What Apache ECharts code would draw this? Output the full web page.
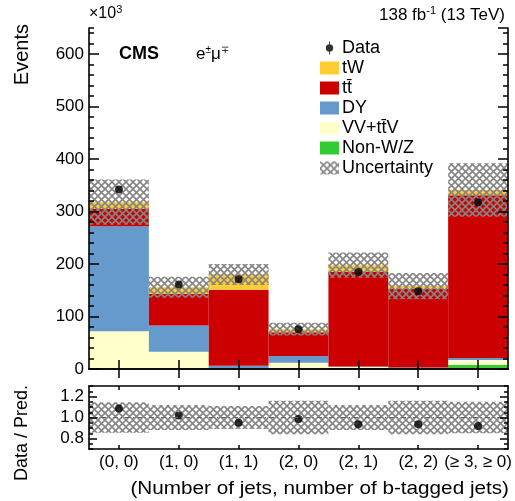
<!DOCTYPE html>
<html><head><meta charset="utf-8">
<script src="https://cdn.jsdelivr.net/npm/echarts@6/dist/echarts.min.js"></script>
<style>html,body{margin:0;padding:0;background:#fff}#c{width:515px;height:501px}</style>
</head><body><div id="c"></div>
<script>
// ---- data (values in units of 10^3 events) ----
const categories = ['(0, 0)', '(1, 0)', '(1, 1)', '(2, 0)', '(2, 1)', '(2, 2)', '(\u2265 3, \u2265 0)'];
const nonWZ = [1, 1, 1, 1, 2, 1, 8];
const vvttv = [71, 32, 1, 11, 2, 1, 9];
const dy = [200, 50, 4, 13, 1, 1, 4];
const ttbar = [33, 60, 145, 45, 180, 150, 310];
const tw = [13, 13, 29, 6, 13, 5, 10];
const unc = [43, 20, 20, 12, 24, 25, 51];
const dataVals = [342, 161, 171, 76, 185, 148, 318];
const ratioVals = [1.085, 1.02, 0.95, 0.985, 0.935, 0.935, 0.92];
const ratioUnc = [0.145, 0.12, 0.11, 0.16, 0.12, 0.16, 0.15];
const ratioTicks = [0.8, 1.0, 1.2];

const FF = '"Liberation Sans", Arial, sans-serif';
const TT = 'tt\u0304';

function makeHatch() {
  const c = document.createElement('canvas');
  c.width = 7; c.height = 7;
  const g = c.getContext('2d');
  g.strokeStyle = '#858585';
  g.lineWidth = 1.6;
  g.beginPath();
  g.moveTo(0, 0); g.lineTo(7, 7);
  g.moveTo(7, 0); g.lineTo(0, 7);
  g.stroke();
  return c;
}
const hatch = { image: makeHatch(), repeat: 'repeat' };

const totals = categories.map((_, i) => nonWZ[i] + vvttv[i] + dy[i] + ttbar[i] + tw[i]);

function bandItem(params, api) {
  const i = api.value(0), lo = api.value(1), hi = api.value(2);
  const a = api.coord([i, hi]), b = api.coord([i, lo]);
  const w = api.size([1, 0])[0];
  return { type: 'rect', shape: { x: a[0] - w / 2, y: a[1], width: w, height: b[1] - a[1] }, style: { fill: hatch } };
}

const axLine = { show: true, lineStyle: { color: '#000', width: 1.6 } };
const noLine = { show: false };
const tickStyle = { color: '#000', width: 1.5 };
function xAx(grid, pos, len, labels) {
  return {
    type: 'category', gridIndex: grid, data: categories, position: pos, z: 10,
    axisLine: axLine,
    axisTick: { show: true, inside: true, alignWithLabel: true, interval: 0, length: len, lineStyle: tickStyle },
    axisLabel: labels ? { show: true, interval: 0, fontSize: 17, fontFamily: FF, color: '#000', margin: 5 } : { show: false },
    splitLine: { show: false }
  };
}
// main panel: major ticks every 100
function yMain(pos, labels) {
  return {
    type: 'value', gridIndex: 0, position: pos, min: 0, max: 650, interval: 100, z: 10,
    axisLine: axLine,
    axisTick: { show: true, inside: true, length: 10, lineStyle: tickStyle },
    axisLabel: labels ? { show: true, showMaxLabel: false, fontSize: 17, fontFamily: FF, color: '#000', margin: 5 } : { show: false },
    splitLine: { show: false }
  };
}
// main panel: minor ticks every 20
function yMainMinor(pos) {
  return {
    type: 'value', gridIndex: 0, position: pos, min: 0, max: 650, interval: 20, z: 10,
    axisLine: noLine,
    axisTick: { show: true, inside: true, length: 5, lineStyle: tickStyle },
    axisLabel: { show: false }, splitLine: { show: false }
  };
}
// ratio panel axis
function yRatio(pos, labels) {
  return {
    type: 'value', gridIndex: 1, position: pos, min: 0.7, max: 1.3, z: 10,
    axisLine: axLine,
    axisTick: { show: true, inside: true, length: 8, customValues: ratioTicks, lineStyle: tickStyle },
    axisLabel: labels ? { show: true, customValues: ratioTicks, fontSize: 17, fontFamily: FF, color: '#000', margin: 5, formatter: v => v.toFixed(1) } : { show: false },
    splitLine: { show: false }, minorTick: { show: false }
  };
}
function yRatioMinor(pos) {
  return {
    type: 'value', gridIndex: 1, position: pos, min: 0.7, max: 1.3, interval: 0.05, z: 10,
    axisLine: noLine,
    axisTick: { show: true, inside: true, length: 4, lineStyle: tickStyle },
    axisLabel: { show: false }, splitLine: { show: false }
  };
}

const stackDefs = [
  ['Non-W/Z', nonWZ, '#33cc33'],
  ['VV+' + TT + 'V', vvttv, '#ffffcc'],
  ['DY', dy, '#6699cc'],
  [TT, ttbar, '#cc0000'],
  ['tW', tw, '#ffcc33']
];

const series = stackDefs.map(d => ({
  type: 'bar', name: d[0], stack: 'mc', data: d[1], xAxisIndex: 0, yAxisIndex: 0,
  barWidth: '100%', barCategoryGap: '0%', itemStyle: { color: d[2] }, z: 2
}));
series.push({
  type: 'custom', name: 'Uncertainty', xAxisIndex: 0, yAxisIndex: 0, z: 3,
  itemStyle: { color: '#858585' },
  renderItem: bandItem, encode: { x: 0, y: [1, 2] },
  data: categories.map((_, i) => [i, totals[i] - unc[i], totals[i] + unc[i]])
});
series.push({
  type: 'scatter', name: 'Data', xAxisIndex: 0, yAxisIndex: 0, z: 4,
  symbol: 'circle', symbolSize: 8, itemStyle: { color: '#000' }, data: dataVals
});
series.push({
  type: 'custom', name: 'RatioUnc', xAxisIndex: 2, yAxisIndex: 4, z: 3,
  renderItem: bandItem, encode: { x: 0, y: [1, 2] },
  data: categories.map((_, i) => [i, 1 - ratioUnc[i], 1 + ratioUnc[i]])
});
series.push({
  type: 'scatter', name: 'Ratio', xAxisIndex: 2, yAxisIndex: 4, z: 4,
  symbol: 'circle', symbolSize: 8, itemStyle: { color: '#000' }, data: ratioVals,
  markLine: {
    silent: true, symbol: 'none', label: { show: false },
    lineStyle: { color: '#666', width: 1, type: [5, 3, 1, 3] },
    data: [{ yAxis: 1 }]
  }
});

const option = {
  animation: false,
  backgroundColor: '#fff',
  textStyle: { fontFamily: FF },
  grid: [
    { left: 89, top: 28, width: 419, height: 341 },
    { left: 89, top: 386, width: 419, height: 63 }
  ],
  xAxis: [xAx(0, 'bottom', 9, false), xAx(0, 'top', 9, false), xAx(1, 'bottom', 4, true), xAx(1, 'top', 4, false)],
  yAxis: [
    yMain('left', true), yMainMinor('left'), yMain('right', false), yMainMinor('right'),
    yRatio('left', true), yRatioMinor('left'), yRatio('right', false), yRatioMinor('right')
  ],
  legend: {
    orient: 'vertical', left: 320, top: 39, padding: 0, itemWidth: 19, itemHeight: 13, itemGap: 2,
    selectedMode: false,
    textStyle: { fontFamily: FF, fontSize: 18, color: '#000', padding: [0, 0, 0, -2] },
    data: [
      { name: 'Data', icon: 'path://M9,0 L10,0 L10,14 L9,14 Z M5.5,7 A4,4 0 1 1 13.5,7 A4,4 0 1 1 5.5,7 Z' },
      { name: 'tW', icon: 'rect' },
      { name: TT, icon: 'rect' },
      { name: 'DY', icon: 'rect' },
      { name: 'VV+' + TT + 'V', icon: 'rect' },
      { name: 'Non-W/Z', icon: 'rect' },
      { name: 'Uncertainty', icon: 'rect', itemStyle: { color: hatch } }
    ]
  },
  graphic: [
    { type: 'text', x: 22, y: 24, rotation: Math.PI / 2, style: { text: 'Events', font: '20px ' + FF, fill: '#000', align: 'right', verticalAlign: 'middle' } },
    { type: 'text', x: 22, y: 433, rotation: Math.PI / 2, style: { text: 'Data / Pred.', font: '18px ' + FF, fill: '#000', align: 'center', verticalAlign: 'middle' } },
    { type: 'text', x: 509, y: 489, scaleX: 1.15, style: { text: '(Number of jets, number of b-tagged jets)', font: '18px ' + FF, fill: '#000', align: 'right', verticalAlign: 'middle' } },
    { type: 'text', x: 89, y: 14, style: { text: '\u00d710{s|3}', font: '16px ' + FF, fill: '#000', align: 'left', verticalAlign: 'middle',
        rich: { s: { fontSize: 11, fontFamily: FF, padding: [0, 0, 8, 0] } } } },
    { type: 'text', x: 505, y: 15, style: { text: '138 fb{s|-1} (13 TeV)', font: '17px ' + FF, fill: '#000', align: 'right', verticalAlign: 'middle',
        rich: { s: { fontSize: 11, fontFamily: FF, padding: [0, 0, 8, 0] } } } },
    { type: 'text', x: 119, y: 54, style: { text: 'CMS', font: 'bold 18px ' + FF, fill: '#000', align: 'left', verticalAlign: 'middle' } },
    { type: 'text', x: 196, y: 54, style: { text: 'e{s|\u00b1}\u03bc{s|\u2213}', font: '17px ' + FF, fill: '#000', align: 'left', verticalAlign: 'middle',
        rich: { s: { fontSize: 10, fontFamily: FF, padding: [0, 0, 7, 0] } } } }
  ],
  series: series
};

const chart = echarts.init(document.getElementById('c'), null, { renderer: 'canvas' });
chart.setOption(option);
</script>
</body></html>
